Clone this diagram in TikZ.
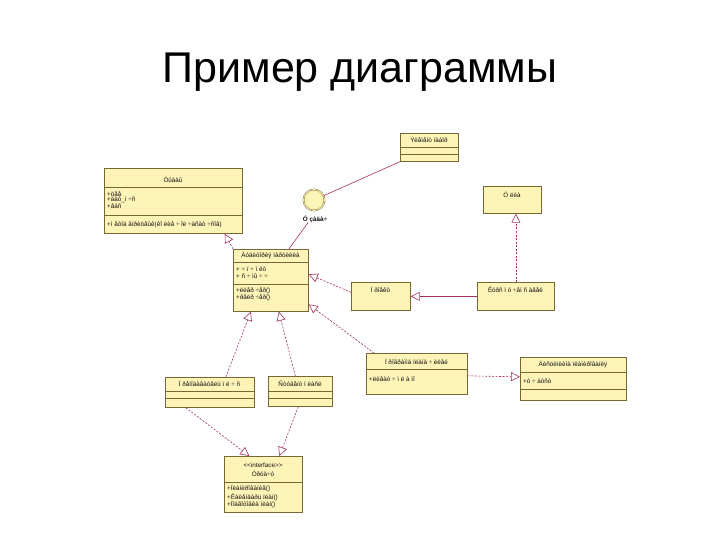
\documentclass[tikz,border=0pt]{standalone}
\usepackage{fontspec}
\setmainfont{Liberation Sans}
\usetikzlibrary{arrows.meta,positioning,calc}
\definecolor{clsfill}{HTML}{FFF4B8}
\definecolor{clsborder}{HTML}{7A6535}
\definecolor{link}{HTML}{A8305E}
\definecolor{ink}{HTML}{111111}
\tikzset{
  cls/.style={draw=clsborder, fill=clsfill, line width=0.7pt, inner sep=0pt, anchor=north west},
  sep/.style={draw=clsborder, line width=0.6pt},
  txt/.style={font=\fontsize{6.3}{7}\selectfont, text=ink, inner sep=0pt},
  hdr/.style={txt, anchor=center},
  row/.style={txt, anchor=west},
  assoc/.style={draw=link, line width=0.6pt},
  realize/.style={draw=link, line width=0.6pt, dash pattern=on 2pt off 1.5pt, -{Triangle[open, length=9pt, width=9pt]}},
  genline/.style={draw=link, line width=0.6pt, -{Triangle[open, length=9pt, width=9pt]}}
}
\begin{document}
\begin{tikzpicture}[x=1pt, y=-1pt]
\useasboundingbox (0,0) rectangle (720,540);
\fill[white] (0,0) rectangle (720,540);
\node[font=\fontsize{43}{50}\selectfont, text=black] (title) at (360,72) {Пример диаграммы};
% top-left class
\node[cls, minimum width=138pt, minimum height=65pt] (grp) at (104,168) {};
\node[hdr] (grpname) at (173,180) {Öûàäû};
\draw[sep] (104,187) -- (242,187);
\node[row] (grpa1) at (107,194) {+öåå};
\node[row] (grpa2) at (107,200) {+äàò\_í ÷ñ};
\node[row] (grpa3) at (107,206) {+åäñ};
\draw[sep] (104,215) -- (242,215);
\node[row] (grpo1) at (107,225) {+ì åòîä âïðèöåûê(êî ëèå ÷ îë ÷àñàò ÷ñîâ)};
% interface with lollipop
\node[cls, minimum width=58pt, minimum height=28pt] (elem) at (400,133) {};
\node[hdr] (elemname) at (429,140) {Ýëåìåíò íàáîð};
\draw[sep] (400,147) -- (458,147);
\draw[sep] (400,154) -- (458,154);
\node[circle, draw=clsborder, fill=clsfill, double=clsfill, double distance=0.8pt, minimum size=21pt, inner sep=0pt] (iface) at (314,200) {};
\node[txt, font=\bfseries\fontsize{6.3}{7}\selectfont] (ifacelbl) at (315,219) {Ó çàäà÷};
\draw[assoc] (iface) -- (elem.south west);
% top-right
\node[cls, minimum width=58pt, minimum height=27pt] (rol) at (483,186) {};
\node[hdr] (rolname) at (512,195) {Ó ëèà};
% central class
\node[cls, minimum width=75pt, minimum height=62pt] (aud) at (233,249) {};
\node[hdr] (audname) at (270.5,255.5) {Àóäèòîðèÿ ïàðòèëèà};
\draw[sep] (233,262) -- (308,262);
\node[row] (auda1) at (236,269) {+ ÷ ï ÷ ì ëò};
\node[row] (auda2) at (236,276) {+ ñ ÷ ìû ÷ ÷};
\draw[sep] (233,284) -- (308,284);
\node[row] (audo1) at (236,291) {+ëèåð ÷åð()};
\node[row] (audo2) at (236,298) {+ðåëð ÷åð()};
\draw[assoc] ([xshift=-7pt]ifacelbl.south) -- ([xshift=18pt]aud.north);
% project, course
\node[cls, minimum width=59pt, minimum height=28pt] (proj) at (351,282) {};
\node[hdr] (projname) at (380.5,290) {Ï ðîåêò};
\node[cls, minimum width=77pt, minimum height=28pt] (kurs) at (477,282) {};
\node[hdr] (kursname) at (515.5,290) {Êóðñ ï ó ÷åí ñ àååé};
% program, discipline
\node[cls, minimum width=101pt, minimum height=41pt] (prog) at (366,353) {};
\node[hdr] (progname) at (416.5,362) {Ï ðîãðàììà ïëàíà ÷ èëåé};
\draw[sep] (366,369) -- (467,369);
\node[row] (progo1) at (369,379) {+ëèåàò ÷ ì ë à ïî};
\node[cls, minimum width=106pt, minimum height=43pt] (disc) at (520,357) {};
\node[hdr] (discname) at (573,365) {Äèñöèïëèíà ïëàíèðîâàíèÿ};
\draw[sep] (520,372) -- (626,372);
\node[row] (disca1) at (523,381) {+ò ÷ àòñò};
\draw[sep] (520,389) -- (626,389);
% bottom-left classes
\node[cls, minimum width=89pt, minimum height=30pt] (prep) at (165,377) {};
\node[hdr] (prepname) at (209.5,384) {Ï ðåïîäàâàòåëü ï ë ÷ ñ};
\draw[sep] (165,391) -- (254,391);
\draw[sep] (165,398) -- (254,398);
\node[cls, minimum width=64pt, minimum height=30pt] (stud) at (268,376) {};
\node[hdr] (studname) at (300,384) {Ñòóäåíò ï ëàñë};
\draw[sep] (268,391) -- (332,391);
\draw[sep] (268,398) -- (332,398);
% bottom interface
\node[cls, minimum width=78pt, minimum height=56pt] (tr) at (224,456) {};
\node[hdr] (trstereo) at (263,465) {{<}{<}interface{>}{>}};
\node[hdr] (trname) at (263,474) {Òðóä÷ó};
\draw[sep] (224,482) -- (302,482);
\node[row] (tro1) at (227,489) {+Ïëàíèðîâàíèå()};
\node[row] (tro2) at (227,497) {+Êàëåíäàðü ïëàí()};
\node[row] (tro3) at (227,505) {+Ïîäãîòîâêà ïëàí()};
% connectors
\draw[realize] (aud.north west) -- ([xshift=-18pt]grp.south east);
\draw[realize] ([yshift=4pt]proj.west) -- ([yshift=6pt]aud.east);
\draw[genline] (kurs.west) -- (proj.east);
\draw[realize] (kurs.north) -- (kurs.north |- rol.south);
\draw[realize] ([xshift=8pt]prog.north west) -- ([yshift=-24pt]aud.east);
\draw[realize] ([yshift=-2pt]prog.east) -- ([yshift=2pt]disc.west);
\draw[realize] ([xshift=16pt]prep.north) -- ([xshift=-20pt]aud.south);
\draw[realize] ([xshift=-5pt]stud.north) -- ([xshift=8pt]aud.south);
\draw[realize] ([xshift=-24pt]prep.south) -- ([xshift=-14pt]tr.north);
\draw[realize] ([xshift=-2pt]stud.south) -- ([xshift=16pt]tr.north);
\end{tikzpicture}
\end{document}
